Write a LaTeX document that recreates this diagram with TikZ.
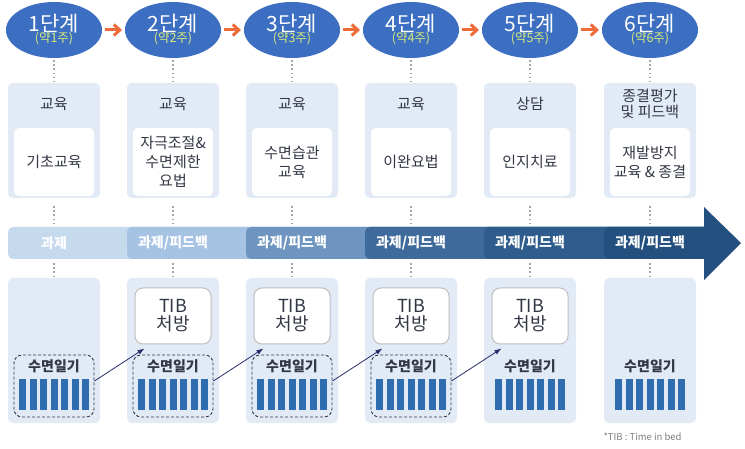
\documentclass[tikz,border=0pt]{standalone}
\usepackage{fontspec}
\setmainfont{Noto Sans CJK KR}
\usetikzlibrary{arrows.meta,shapes.geometric}
\definecolor{circ}{HTML}{3C6EC2}
\definecolor{panel}{HTML}{E1EAF5}
\definecolor{orng}{HTML}{EE6B3B}
\definecolor{bA}{HTML}{C6DAEE}
\definecolor{bB}{HTML}{A6C3E4}
\definecolor{bC}{HTML}{6E94C0}
\definecolor{bD}{HTML}{3F6B9C}
\definecolor{bE}{HTML}{2E5C8C}
\definecolor{bF}{HTML}{23507E}
\definecolor{bar}{HTML}{2E6DB0}
\definecolor{dk}{HTML}{333845}
\definecolor{subc}{HTML}{D8EC7A}
\tikzset{
 stage/.style={align=center,text=white,inner sep=0pt},
 panelbox/.style={fill=panel,rounded corners=5pt},
 whitebox/.style={fill=white,rounded corners=5pt,minimum width=80pt,minimum height=68pt,align=center,font=\fontsize{15}{19}\selectfont,text=dk},
 tibbox/.style={fill=white,draw=gray!50,line width=1pt,rounded corners=8pt,minimum width=76pt,minimum height=56pt,align=center,font=\fontsize{18}{20}\selectfont,text=dk,inner sep=1pt},
 dashbox/.style={draw=dk,dash pattern=on 3pt off 2pt,line width=0.9pt,rounded corners=8pt,minimum width=80pt,minimum height=62pt},
 dots/.style={draw=gray!70,line width=1.6pt,dash pattern=on 1.6pt off 2.6pt},
 conn/.style={draw=dk!80!blue,line width=0.8pt,-{Latex[length=7pt,width=5pt]}},
 bandtxt/.style={text=white,font=\bfseries\fontsize{14}{16}\selectfont},
}
\begin{document}
\begin{tikzpicture}[x=1pt,y=-1pt]
\useasboundingbox[fill=white] (0,0) rectangle (745,449);
\def\colx{{54,173,292,411,530,650}}
% band
\foreach \i/\c in {0/bA,1/bB,2/bC,3/bD,4/bE,5/bF}{
  \pgfmathsetmacro\xx{\colx[\i]-46}
  \fill[\c,rounded corners=5pt] (\xx,227) rectangle (710,259);
}
\fill[bF] (704,207) -- (741,243) -- (704,280) -- cycle;
\foreach \i/\t in {0/{과제},1/{과제/피드백},2/{과제/피드백},3/{과제/피드백},4/{과제/피드백},5/{과제/피드백}}{
  \pgfmathsetmacro\xx{\colx[\i]}
  \node[bandtxt] (bt\i) at (\xx,243) {\t};
}
% stages
\foreach \i in {0,...,5}{
  \pgfmathsetmacro\xx{\colx[\i]}
  \pgfmathtruncatemacro\n{\i+1}
  \fill[circ] (\xx,30) ellipse [x radius=48,y radius=28];
  \node[stage] (s\i) at (\xx,30) {{\fontsize{21}{22}\selectfont\n 단계}\\[-1pt]{\color{subc}\fontsize{12.5}{13}\selectfont(약\n 주)}};
  \coordinate (sl\i) at (\xx-48,30);
  \coordinate (sr\i) at (\xx+48,30);
  \fill[panelbox] (\xx-46,83) rectangle (\xx+46,198);
  \fill[panelbox] (\xx-46,278) rectangle (\xx+46,423);
  \draw[dots] (\xx,60) -- (\xx,82);
  \draw[dots] (\xx,206) -- (\xx,224);
  \draw[dots] (\xx,263) -- (\xx,276);
}
\foreach \i in {0,...,4}{
  \pgfmathtruncatemacro\j{\i+1}
  \draw[orng,line width=3pt,-{Straight Barb[length=6pt,width=11pt]}] ([xshift=3pt]sr\i) -- ([xshift=-3pt]sl\j);
}
% upper panels
\foreach \i/\a/\b in {0/교육/기초교육,1/교육/{자극조절\&\\수면제한\\요법},2/교육/{수면습관\\교육},3/교육/이완요법,4/상담/인지치료,5/{종결평가\\및 피드백}/{재발방지\\교육 \& 종결}}{
  \pgfmathsetmacro\xx{\colx[\i]}
  \node[align=center,font=\fontsize{15}{16}\selectfont,text=dk] (h\i) at (\xx,104) {\a};
  \node[whitebox] (w\i) at (\xx,162) {\b};
}
% lower panels
\foreach \i in {1,2,3,4}{
  \pgfmathsetmacro\xx{\colx[\i]}
  \node[tibbox] (t\i) at (\xx,316) {TIB\\[-2pt]처방};
}
\foreach \i in {0,...,5}{
  \pgfmathsetmacro\xx{\colx[\i]}
  \node[font=\bfseries\fontsize{14}{15}\selectfont,text=dk] (d\i) at (\xx,366) {수면일기};
  \foreach \k in {-3,...,3}{ \fill[bar] (\xx+\k*10.5-3.5,379) rectangle (\xx+\k*10.5+3.5,410); }
}
\foreach \i in {0,...,3}{
  \pgfmathsetmacro\xx{\colx[\i]}
  \node[dashbox] (db\i) at (\xx,386) {};
}
\foreach \i in {0,...,3}{
  \pgfmathtruncatemacro\j{\i+1}
  \draw[conn] ([yshift=5pt]db\i.east) -- ([xshift=10pt,yshift=-4pt]t\j.south west);
}
\node[text=gray,font=\fontsize{9.5}{10}\selectfont,anchor=west] (fn) at (600,437) {*TIB : Time in bed};
\end{tikzpicture}
\end{document}
